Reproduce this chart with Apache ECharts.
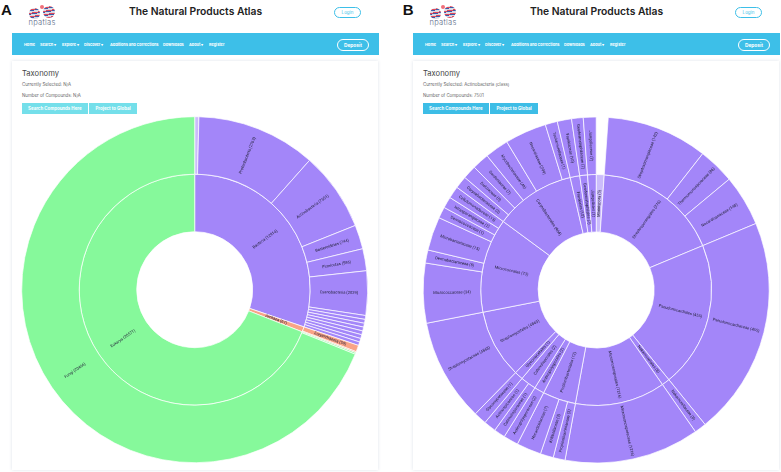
<!DOCTYPE html>
<html><head><meta charset="utf-8">
<script src="https://cdn.jsdelivr.net/npm/echarts@6/dist/echarts.min.js"></script>
<style>
html,body{margin:0;padding:0;}
body{width:781px;height:472px;position:relative;overflow:hidden;background:#fff;font-family:Inter,"Open Sans",Roboto,sans-serif;}
.a{position:absolute;white-space:nowrap;}
.letter{font:bold 15px "Liberation Sans",Arial,sans-serif;color:#111;}
.title{font-weight:600;font-size:10.3px;color:#222;transform:translateX(-50%);}
.login{border:1px solid #3dbfe8;border-radius:7px;color:#3dbfe8;font-size:4.5px;display:flex;align-items:center;justify-content:center;box-sizing:border-box;}
.nav{background:#3dbfe8;}
.navitem{font-size:3.8px;font-weight:700;color:#fff;top:42px;}
.deposit{border:1px solid #fff;border-radius:7px;color:#fff;font-size:4.8px;font-weight:700;display:flex;align-items:center;justify-content:center;box-sizing:border-box;}
.card{background:#fff;box-shadow:0 0 3px rgba(120,140,170,0.25);}
.tax{font-size:7.6px;color:#444;}
.small{font-size:4.4px;color:#666;}
.btn{color:#fff;font-size:4.4px;font-weight:700;display:flex;align-items:center;justify-content:center;}
.logo1,.logo2{border-radius:50%;background:repeating-linear-gradient(170deg,#d9d9e3 0px,#d9d9e3 1.6px,#e0485a 1.6px,#e0485a 2.6px,#3b5ca8 2.6px,#3b5ca8 3.4px);}
.dot{border-radius:50%;background:#ef6f7a;}
.npt{font-size:7.5px;font-weight:300;color:#5a6a88;letter-spacing:0.3px;}
#chart{position:absolute;left:0;top:0;width:781px;height:472px;z-index:5;}
</style></head>
<body>
<div id="chrome"></div>
<div id="chart"></div>
<script>
// ---------- page texts ----------
const panelLetters = ['A', 'B'];
const siteTitle = 'The Natural Products Atlas';
const navItems = ['Home', 'Search \u25BE', 'Explore \u25BE', 'Discover \u25BE', 'Additions and Corrections', 'Downloads', 'About \u25BE', 'Register'];
const selectedTexts = ['Currently Selected: N/A', 'Currently Selected: Actinobacteria (class)'];
const compoundTexts = ['Number of Compounds: N/A', 'Number of Compounds: 7501'];
const buttonTexts = ['Search Compounds Here', 'Project to Global'];

// ---------- Panel A data (domain -> phylum) ----------
const domainsA = ['Bacteria', 'Archaea', 'Eukarya'];
const domainCountsA = [12914, 61, 20571];
const domainColorsA = ['#a386f9', '#f9a386', '#86f99b'];
const phylaA = ['Unclassified', 'Proteobacteria', 'Actinobacteria', 'Bacteroidetes', 'Firmicutes', 'Cyanobacteria',
  'Chloroflexi', 'Deinococcus-Thermus', 'Verrucomicrobia', 'Planctomycetes', 'Spirochaetes', 'Chlorobi', 'Fusobacteria', 'Tenericutes',
  'Euryarchaeota', 'Thaumarchaeota',
  'Oomycota', 'Fungi'];
const phylumParentA = [0,0,0,0,0,0, 0,0,0,0,0,0,0,0, 1,1, 2,2];
const phylumCountsA = [41, 2763, 7501, 744, 586, 2029, 13, 11, 8, 6, 4, 3, 2, 2, 59, 2, 105, 20466];
const phylumSizesA = [1.4, 40.2, 26.6, 8.1, 7.4, 14.9, 1.3, 1.3, 1.3, 1.3, 1.3, 1.3, 1.2, 1.2, 2.2, 0.4, 0.5, 248.1];
const lightA = ['Unclassified'];

// ---------- Panel B data (Actinobacteria: order -> family) ----------
const ordersB = ['Marinispora', 'Streptosporangiales', 'Pseudonocardiales', 'Nakamurellales', 'Micromonosporales',
  'Propionibacteriales', 'Actinopolysporales', 'Catenulisporales', 'Glycomycetales', 'Streptomycetales',
  'Micrococcales', 'Corynebacteriales', 'Frankiales', 'Geodermatophilales', 'Jiangellales'];
const orderCountsB = [5, 376, 455, 8, 1216, 12, 2, 2, 1, 4863, 73, 464, 10, 7, 7];
const orderLeafSizesB = [4, null, null, null, null, null, null, null, null, null, null, null, null, null, null];
const familiesB = ['Streptosporangiaceae', 'Thermomonosporaceae', 'Nocardiopsaceae',
  'Pseudonocardiaceae', 'Nakamurellaceae', 'Micromonosporaceae',
  'Propionibacteriaceae', 'Kribbellaceae', 'Nocardioidaceae', 'Actinopolysporaceae',
  'Catenulisporaceae', 'Actinospicaceae', 'Glycomycetaceae', 'Streptomycetaceae',
  'Micrococcaceae', 'Dermabacteraceae', 'Microbacteriaceae', 'Dermacoccaceae', 'Intrasporangiaceae', 'Cellulomonadaceae',
  'Corynebacteriaceae', 'Dietziaceae', 'Gordoniaceae', 'Mycobacteriaceae', 'Nocardiaceae', 'Tsukamurellaceae',
  'Frankiaceae', 'Geodermatophilaceae', 'Jiangellaceae'];
const familyParentB = [1,1,1, 2, 3, 4, 5,5,5, 6, 7,7, 8, 9, 10,10,10,10,10,10, 11,11,11,11,11,11, 12, 13, 14];
const familyCountsB = [142, 86, 148, 455, 8, 1216, 3, 2, 7, 2, 1, 1, 1, 4863, 34, 8, 15, 1, 2, 13, 3, 5, 7, 49, 399, 1, 10, 7, 7];
const familySizesB = [34, 12.2, 17.2, 73.6, 4, 45.4, 4.0, 4.4, 8.3, 5.0, 3.8, 4.1, 4.3, 34.6,
  20.1, 4.4, 11.3, 3.8, 3.8, 4.1, 4.2, 4.6, 5.7, 8.0, 14.0, 4.1, 4.8, 3.9, 4.3];
const lightB = ['Marinispora'];
const purpleB = '#a386f9';
const lightColor = '#cbbcfb';

// ---------- chrome ----------
const navX = [24, 40, 62, 84, 110, 163, 189, 209];
const panels = [
  {ox: 0, letterX: 1, btnColor: '#74dfea'},
  {ox: 401, letterX: 1.7, btnColor: '#3dbde6'}
];
let html = '';
panels.forEach((p, i) => {
  const o = p.ox;
  html += `<div class="a letter" style="left:${o + p.letterX}px;top:1px">${panelLetters[i]}</div>`;
  html += `<div class="a logo1" style="left:${o + 29}px;top:8px;width:11px;height:11px"></div>`;
  html += `<div class="a logo2" style="left:${o + 43}px;top:6px;width:12px;height:12px"></div>`;
  html += `<div class="a dot" style="left:${o + 39.5}px;top:5px;width:4px;height:4px"></div>`;
  html += `<div class="a npt" style="left:${o + 28.5}px;top:17.5px">npatlas</div>`;
  html += `<div class="a title" style="left:${o + 195.5}px;top:5px">${siteTitle}</div>`;
  html += `<div class="a login" style="left:${o + 334}px;top:6.5px;width:27px;height:11px">Login</div>`;
  html += `<div class="a nav" style="left:${o + 11.7}px;top:33.3px;width:367px;height:21.7px"></div>`;
  navItems.forEach((t, k) => {
    html += `<div class="a navitem" style="left:${o + navX[k]}px">${t}</div>`;
  });
  html += `<div class="a deposit" style="left:${o + 337}px;top:38.5px;width:32px;height:12px">Deposit</div>`;
  html += `<div class="a card" style="left:${o + 12}px;top:61px;width:366px;height:409px"></div>`;
  html += `<div class="a tax" style="left:${o + 22}px;top:68.5px">Taxonomy</div>`;
  html += `<div class="a small" style="left:${o + 22}px;top:81.5px">${selectedTexts[i]}</div>`;
  html += `<div class="a small" style="left:${o + 22}px;top:92.5px">${compoundTexts[i]}</div>`;
  html += `<div class="a btn" style="left:${o + 22}px;top:102.7px;width:65.7px;height:11.3px;background:${p.btnColor}">${buttonTexts[0]}</div>`;
  html += `<div class="a btn" style="left:${o + 89}px;top:102.7px;width:48.3px;height:11.3px;background:${p.btnColor}">${buttonTexts[1]}</div>`;
});
document.getElementById('chrome').innerHTML = html;

// ---------- build tree data ----------
const dataA = domainsA.map((d, di) => ({
  name: `${d} (${domainCountsA[di]})`,
  itemStyle: {color: domainColorsA[di]},
  children: phylaA.map((p, pi) => ({p, pi})).filter(x => phylumParentA[x.pi] === di).map(x => ({
    name: `${x.p} (${phylumCountsA[x.pi]})`,
    value: phylumSizesA[x.pi],
    itemStyle: {color: lightA.includes(x.p) ? lightColor : domainColorsA[di]}
  }))
}));

const dataB = ordersB.map((o, oi) => {
  const kids = familiesB.map((f, fi) => ({f, fi})).filter(x => familyParentB[x.fi] === oi).map(x => ({
    name: `${x.f} (${familyCountsB[x.fi]})`,
    value: familySizesB[x.fi],
    itemStyle: {color: purpleB}
  }));
  const node = {name: `${o} (${orderCountsB[oi]})`, itemStyle: {color: lightB.includes(o) ? lightColor : purpleB}};
  if (kids.length) node.children = kids; else node.value = orderLeafSizesB[oi];
  return node;
});

const common = {
  type: 'sunburst',
  radius: [58, 173],
  sort: null,
  startAngle: 90,
  clockwise: true,
  nodeClick: false,
  emphasis: {disabled: true},
  itemStyle: {borderColor: '#fff', borderWidth: 0.7},
  label: {fontSize: 4, color: '#24223a', rotate: 'radial', fontFamily: 'Roboto, sans-serif', minAngle: 2}
};

const chart = echarts.init(document.getElementById('chart'), null, {renderer: 'canvas'});
chart.setOption({
  animation: false,
  backgroundColor: 'transparent',
  series: [
    Object.assign({}, common, {center: [194.7, 289.7], data: dataA}),
    Object.assign({}, common, {center: [596.2, 290], data: dataB})
  ]
});
</script>
</body></html>
